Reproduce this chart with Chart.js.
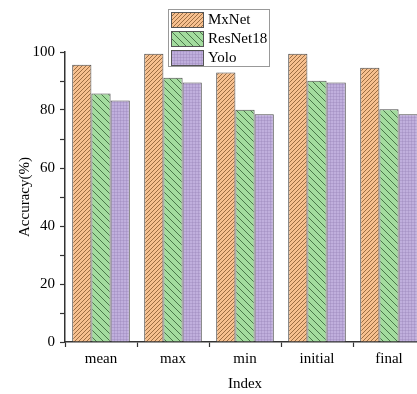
<!DOCTYPE html>
<html>
<head>
<meta charset="utf-8">
<script src="https://cdn.jsdelivr.net/npm/chart.js@4.4.0/dist/chart.umd.min.js"></script>
<style>
  html, body { margin: 0; padding: 0; background: #fff; overflow: hidden; }
  #wrap { width: 417px; height: 394px; overflow: hidden; }
</style>
</head>
<body>
<div id="wrap"><canvas id="chart" width="440" height="394"></canvas></div>
<script>
const categories = ['mean', 'max', 'min', 'initial', 'final'];
const seriesNames = ['MxNet', 'ResNet18', 'Yolo'];
const mxnet = [95.6, 99.4, 92.9, 99.4, 94.6];
const resnet18 = [85.7, 91.1, 80.1, 90.1, 80.3];
const yolo = [83.3, 89.5, 78.5, 89.5, 78.5];

const FONT = '"Liberation Serif", "Times New Roman", serif';

// hatch fills
function makePattern(bg, kind) {
    const c = document.createElement('canvas');
    const s = kind === 'slash' ? 4 : kind === 'back' ? 7 : 3;
    c.width = s; c.height = s;
    const g = c.getContext('2d');
    g.fillStyle = bg;
    g.fillRect(0, 0, s, s);
    if (kind === 'slash') {
        g.strokeStyle = 'rgba(110,70,30,0.75)';
        g.lineWidth = 0.9;
        g.beginPath();
        g.moveTo(0, s); g.lineTo(s, 0);
        g.moveTo(-1, 1); g.lineTo(1, -1);
        g.moveTo(s - 1, s + 1); g.lineTo(s + 1, s - 1);
        g.stroke();
    } else if (kind === 'back') {
        g.strokeStyle = 'rgba(40,80,40,0.8)';
        g.lineWidth = 0.9;
        g.beginPath();
        g.moveTo(0, 0); g.lineTo(s, s);
        g.moveTo(-1, s - 1); g.lineTo(1, s + 1);
        g.moveTo(s - 1, -1); g.lineTo(s + 1, 1);
        g.stroke();
    } else {
        g.fillStyle = 'rgba(150,130,180,0.35)';
        g.fillRect(0, 0, s, 1);
        g.fillRect(0, 0, 1, s);
    }
    return g.createPattern(c, 'repeat');
}

const fills = [
    makePattern('#f7c08f', 'slash'),
    makePattern('#a3dc9e', 'back'),
    makePattern('#c0afdd', 'grid')
];

const boxedLegend = {
    id: 'boxedLegend',
    afterDraw(chart) {
        const ctx = chart.ctx;
        ctx.save();
        ctx.fillStyle = '#fff';
        ctx.fillRect(168, 9, 101, 57);
        ctx.strokeStyle = '#999';
        ctx.lineWidth = 1;
        ctx.strokeRect(168.5, 9.5, 101, 57);
        chart.data.datasets.forEach((ds, i) => {
            const y = 12 + i * 19;
            ctx.fillStyle = ds.backgroundColor;
            ctx.fillRect(171, y, 32, 15);
            ctx.strokeStyle = '#555';
            ctx.strokeRect(171.5, y + 0.5, 32, 15);
            ctx.fillStyle = '#000';
            ctx.font = '15px ' + FONT;
            ctx.textBaseline = 'middle';
            ctx.fillText(ds.label, 208, y + 8);
        });
        ctx.restore();
    }
};

const ctx = document.getElementById('chart');
new Chart(ctx, {
    type: 'bar',
    data: {
        labels: categories,
        datasets: [mxnet, resnet18, yolo].map((d, i) => ({
            label: seriesNames[i],
            data: d,
            backgroundColor: fills[i],
            borderColor: '#4a4a4a',
            borderWidth: 1,
            barPercentage: 1,
            categoryPercentage: 0.8
        }))
    },
    options: {
        responsive: false,
        animation: false,
        layout: { padding: { top: 52, right: 15, left: 0, bottom: 0 } },
        plugins: {
            legend: { display: false },
            tooltip: { enabled: false }
        },
        scales: {
            x: {
                afterFit: (s) => { s.height = 52; },
                grid: {
                    drawOnChartArea: false,
                    offset: true,
                    tickLength: 5,
                    tickColor: '#333',
                    tickWidth: 1.2
                },
                border: { color: '#333', width: 1.5 },
                ticks: {
                    color: '#000',
                    padding: 3,
                    font: { family: FONT, size: 15 }
                },
                title: {
                    display: true,
                    text: 'Index',
                    color: '#000',
                    padding: { top: 0, bottom: 1 },
                    font: { family: FONT, size: 15 }
                }
            },
            y: {
                min: 0,
                max: 100,
                afterFit: (s) => { s.width = 65; },
                grid: {
                    drawOnChartArea: false,
                    tickLength: 5,
                    tickColor: '#333',
                    tickWidth: 1.2
                },
                border: { color: '#333', width: 1.5 },
                ticks: {
                    stepSize: 10,
                    color: '#000',
                    padding: 5,
                    font: { family: FONT, size: 15 },
                    callback: (v) => (v % 20 === 0 ? v : '')
                },
                title: {
                    display: true,
                    text: 'Accuracy(%)',
                    color: '#000',
                    padding: { top: 16, bottom: 0 },
                    font: { family: FONT, size: 15 }
                }
            }
        }
    },
    plugins: [boxedLegend]
});
</script>
</body>
</html>
